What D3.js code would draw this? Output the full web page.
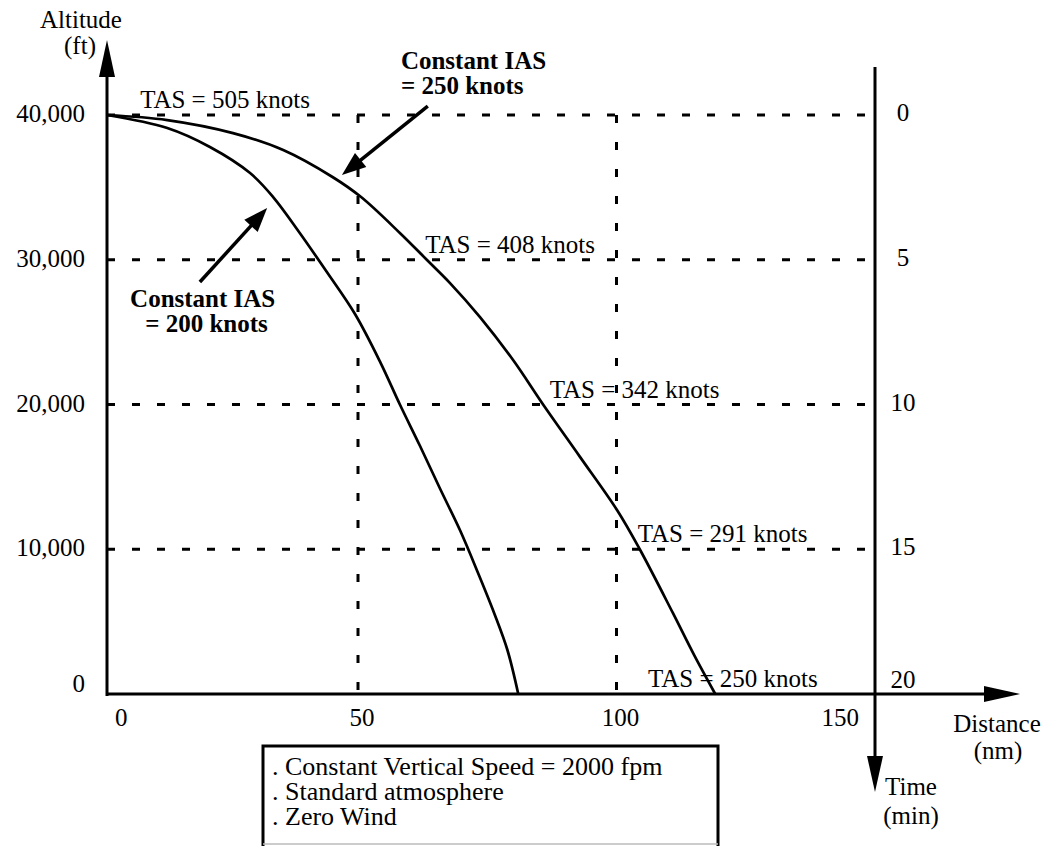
<!DOCTYPE html>
<html>
<head>
<meta charset="utf-8">
<script src="https://cdn.jsdelivr.net/npm/d3@7"></script>
<style>
  html, body { margin: 0; padding: 0; background: #fff; }
  svg { display: block; }
  text { font-family: "Liberation Serif", "Times New Roman", serif; fill: #000; }
</style>
</head>
<body>
<svg id="chart" width="1048" height="846"></svg>
<script>
// ---------------- DATA ----------------
const altTicks = [0, 10000, 20000, 30000, 40000];
const altTickLabels = ["0", "10,000", "20,000", "30,000", "40,000"];
const distTicks = [0, 50, 100, 150];
const timeTicks = [0, 5, 10, 15, 20];

// Constant IAS = 250 knots (distance nm, altitude ft)
const ias250Dist = [0, 12, 25.1, 35.1, 45, 50.6, 58.1, 63.3, 67.8, 73.6, 80, 85.8, 92.9, 100.1, 104.5, 110.9, 115, 119.1];
const ias250Alt  = [40000, 39650, 38750, 37580, 35700, 34330, 31850, 30000, 28390, 26040, 23070, 20000, 16400, 12710, 10000, 5600, 2700, 0];

// Constant IAS = 200 knots
const ias200Dist = [0, 12, 20.5, 28.5, 33.1, 38.4, 43.8, 49.4, 54.3, 58.1, 62, 65.9, 69.8, 73.3, 76.4, 78.9, 81];
const ias200Alt  = [40000, 39100, 37790, 35990, 34330, 31850, 29150, 26250, 22930, 20000, 17130, 14160, 11260, 8290, 5530, 3040, 0];

// TAS labels along the 250-knot curve
const tasAlt   = [40000, 30000, 20000, 10000, 0];
const tasKnots = [505, 408, 342, 291, 250];
const tasDist  = [6.6, 63, 87.1, 104.1, 106.1];

const notes = [". Constant Vertical Speed = 2000 fpm", ". Standard atmosphere", ". Zero Wind"];

// ---------------- LAYOUT ----------------
const svg = d3.select("#chart");
const x = d3.scaleLinear().domain([0, 50, 150]).range([107, 358, 875]);
const y = d3.scaleLinear().domain([0, 40000]).range([694, 115]);
const t = d3.scaleLinear().domain([0, 20]).range([115, 694]);

const FS = 25;       // regular font size
const FSB = 25;      // bold font size
const FSN = 26;      // notes font size

function arrow(g, x1, y1, x2, y2, opts) {
  const hl = opts.hl || 24, hw = opts.hw || 8, sw = opts.sw || 3;
  const dx = x2 - x1, dy = y2 - y1, L = Math.hypot(dx, dy);
  const ux = dx / L, uy = dy / L;
  const bx = x2 - ux * hl, by = y2 - uy * hl;
  g.append("line").attr("x1", x1).attr("y1", y1).attr("x2", bx + ux * 2).attr("y2", by + uy * 2)
    .attr("stroke", "#000").attr("stroke-width", sw);
  g.append("path")
    .attr("d", `M${x2},${y2}L${bx - uy * hw},${by + ux * hw}L${bx + uy * hw},${by - ux * hw}Z`)
    .attr("fill", "#000");
}

// ---- grid (dashed) ----
const grid = svg.append("g");
grid.selectAll("line.h").data(altTicks.filter(d => d > 0)).join("line")
  .attr("x1", x(0)).attr("x2", x(150))
  .attr("y1", d => y(d)).attr("y2", d => y(d))
  .attr("stroke", "#000").attr("stroke-width", 3).attr("stroke-dasharray", "8,17");
grid.selectAll("line.v").data([50, 100]).join("line")
  .attr("x1", d => x(d)).attr("x2", d => x(d))
  .attr("y1", y(40000)).attr("y2", y(0))
  .attr("stroke", "#000").attr("stroke-width", 3).attr("stroke-dasharray", "8,19");

// ---- curves ----
const line = d3.line().x(d => x(d[0])).y(d => y(d[1])).curve(d3.curveCatmullRom.alpha(0.5));
const c250 = ias250Dist.map((d, i) => [d, ias250Alt[i]]);
const c200 = ias200Dist.map((d, i) => [d, ias200Alt[i]]);
svg.append("path").attr("d", line(c250)).attr("fill", "none").attr("stroke", "#000").attr("stroke-width", 2.7);
svg.append("path").attr("d", line(c200)).attr("fill", "none").attr("stroke", "#000").attr("stroke-width", 2.7);

// ---- axes ----
const ax = svg.append("g");
arrow(ax, x(0), y(0) + 2, x(0), 40, { hl: 37, hw: 8, sw: 3 });          // altitude axis
arrow(ax, x(0) - 1, y(0), 1020, y(0), { hl: 36, hw: 8, sw: 3 });        // distance axis
arrow(ax, x(150), 67, x(150), 792, { hl: 36, hw: 8, sw: 3 });           // time axis

// altitude tick labels
ax.selectAll("text.alt").data(altTicks).join("text")
  .attr("x", 85).attr("y", d => Math.min(y(d) + 7, 692))
  .attr("text-anchor", "end").attr("font-size", FS)
  .text((d, i) => altTickLabels[i]);

// distance tick labels
ax.selectAll("text.dist").data(distTicks).join("text")
  .attr("x", (d, i) => i === 0 ? x(d) + 8 : (i === distTicks.length - 1 ? x(d) - 16 : x(d) + 4))
  .attr("y", 726)
  .attr("text-anchor", (d, i) => i === 0 ? "start" : (i === distTicks.length - 1 ? "end" : "middle"))
  .attr("font-size", FS)
  .text(d => d);

// time tick labels
ax.selectAll("text.time").data(timeTicks).join("text")
  .attr("x", 903).attr("y", d => Math.min(t(d) + 6, 688))
  .attr("text-anchor", "middle").attr("font-size", FS)
  .text(d => d);

// axis titles
const titles = [
  { s: "Altitude", x: 81, y: 28 }, { s: "(ft)", x: 80, y: 54 },
  { s: "Distance", x: 997, y: 732 }, { s: "(nm)", x: 998, y: 759 },
  { s: "Time", x: 911, y: 795 }, { s: "(min)", x: 911, y: 824 }
];
svg.selectAll("text.title").data(titles).join("text")
  .attr("x", d => d.x).attr("y", d => d.y).attr("text-anchor", "middle")
  .attr("font-size", FS).text(d => d.s);

// ---- TAS labels ----
svg.selectAll("text.tas").data(tasAlt).join("text")
  .attr("x", (d, i) => x(tasDist[i]))
  .attr("y", d => y(d) - 7)
  .attr("font-size", FS)
  .text((d, i) => `TAS = ${tasKnots[i]} knots`);

// ---- Constant IAS annotations ----
const ann = svg.append("g");
const annText = [
  { s: "Constant IAS", d: 58.3, a: 43150 }, { s: "= 250 knots", d: 58.3, a: 41450 },
  { s: "Constant IAS", d: 4.6, a: 26750 }, { s: "= 200 knots", d: 7.6, a: 25000 }
];
ann.selectAll("text").data(annText).join("text")
  .attr("x", d => x(d.d)).attr("y", d => y(d.a))
  .attr("font-size", FSB).attr("font-weight", "bold").text(d => d.s);
arrow(ann, x(63.5), y(40620), x(46.8), y(35850), { hl: 24, hw: 9, sw: 3.5 });
arrow(ann, x(18.5), y(28460), x(31.9), y(33570), { hl: 24, hw: 9, sw: 3.5 });

// ---- notes box ----
const box = svg.append("g");
box.append("path").attr("d", "M263,846 L263,746 L718,746 L718,846")
  .attr("fill", "none").attr("stroke", "#000").attr("stroke-width", 3);
box.append("line").attr("x1", 263).attr("x2", 718).attr("y1", 844).attr("y2", 844)
  .attr("stroke", "#bbb").attr("stroke-width", 1.5);
box.selectAll("text").data(notes).join("text")
  .attr("x", 272).attr("y", (d, i) => 775 + i * 25)
  .attr("font-size", FSN).text(d => d);
</script>
</body>
</html>
